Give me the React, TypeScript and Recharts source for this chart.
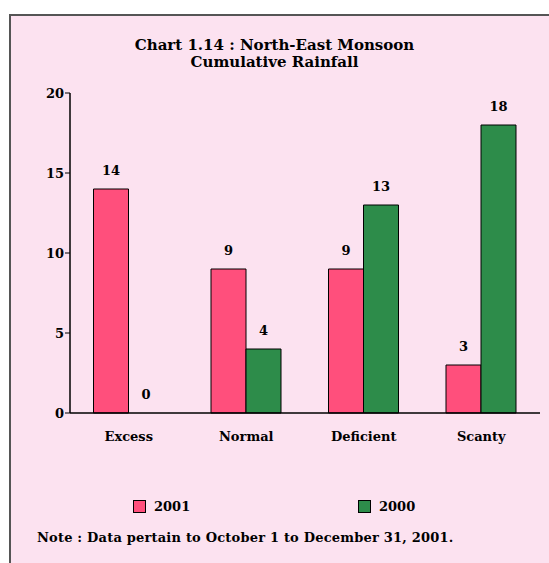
import React from 'react';
import { BarChart, Bar, XAxis, YAxis, LabelList, Legend, Cell } from 'recharts';

const categories = ['Excess', 'Normal', 'Deficient', 'Scanty'];
const values2001 = [14, 9, 9, 3];
const values2000 = [0, 4, 13, 18];
const yTicks = [0, 5, 10, 15, 20];
const boundaryTicks = [0, 1, 2, 3, 4];

const data = categories.map((name, i) => ({ name, y2001: values2001[i], y2000: values2000[i] }));

const FONT = '"DejaVu Serif", serif';
const PINK = '#ff4f7c';
const GREEN = '#2d8c4a';
const legendLeft: Record<string, number> = { y2001: 133, y2000: 358 };

const renderLegend = (props: any) => {
  const { payload } = props;
  return (
    <div style={{ position: 'relative', height: 0, fontFamily: FONT, fontWeight: 'bold', fontSize: 13, color: '#000' }}>
      {payload.map((p: any, i: number) => (
        <div key={i} style={{ display: 'flex', alignItems: 'center', position: 'absolute', top: 0, left: legendLeft[p.dataKey] ?? 0 }}>
          <span style={{ width: 11, height: 11, background: p.color, border: '1px solid #000', display: 'inline-block', marginRight: 8 }} />
          <span>{p.value}</span>
        </div>
      ))}
    </div>
  );
};

const valueText = (entry: any) => {
  const v = Array.isArray(entry.value) ? entry.value[1] : entry.value;
  return String(v);
};

const renderValue = (props: any) => {
  const { x, y, width, height, value } = props;
  // zero bars get a 1px min size so their label survives; anchor label on the baseline
  const top = Number(y) + (String(value) === '0' ? Number(height) : 0);
  return (
    <text x={Number(x) + Number(width) / 2} y={top - 14} textAnchor="middle" fill="#000" fontFamily={FONT} fontWeight="bold" fontSize={13}>
      {value}
    </text>
  );
};

export default function App() {
  return (
    <div style={{ position: 'absolute', left: 0, top: 0, width: 549, height: 563, overflow: 'hidden', background: '#fff' }}>
      <div style={{ position: 'absolute', left: 9, top: 14, width: 560, height: 560, background: '#fce2f0', borderTop: '2px solid #555', borderLeft: '2px solid #555' }} />
      <div style={{ position: 'absolute', left: 0, top: 37, width: 549, textAlign: 'center', fontFamily: FONT, fontWeight: 'bold', fontSize: 15, lineHeight: '17px', color: '#000' }}>
        Chart 1.14 : North-East Monsoon<br />Cumulative Rainfall
      </div>
      <div style={{ position: 'absolute', left: 0, top: 0 }}>
        <BarChart width={549} height={563} data={data} margin={{ top: 93, right: 9, left: 0, bottom: 120 }} barCategoryGap="20%" barGap={0}>
          <XAxis xAxisId="b" type="number" domain={[0, 4]} ticks={boundaryTicks} height={0} axisLine={false} tickLine={{ stroke: '#000' }} tickSize={6} tickFormatter={() => ''} allowDataOverflow />
          <XAxis dataKey="name" height={30} axisLine={{ stroke: '#000', strokeWidth: 1.5 }} tickLine={false} tickMargin={13} tick={{ fill: '#000', fontFamily: FONT, fontWeight: 'bold', fontSize: 13 }} />
          <YAxis width={70} domain={[0, 20]} ticks={yTicks} axisLine={{ stroke: '#000', strokeWidth: 1.5 }} tickLine={{ stroke: '#000' }} tickSize={5} tickMargin={1} tick={{ fill: '#000', fontFamily: FONT, fontWeight: 'bold', fontSize: 13 }} />
          <Legend verticalAlign="top" content={renderLegend} wrapperStyle={{ position: 'absolute', top: 499, left: 0, width: 549, height: 0 }} />
          <Bar dataKey="y2001" name="2001" fill={PINK} stroke="#000" strokeWidth={1} isAnimationActive={false}>
            <LabelList dataKey="y2001" valueAccessor={valueText} content={renderValue} />
          </Bar>
          <Bar dataKey="y2000" name="2000" fill={GREEN} stroke="#000" strokeWidth={1} minPointSize={1} isAnimationActive={false}>
            {values2000.map((v, i) => (
              <Cell key={`c-${i}`} fill={v === 0 ? 'none' : GREEN} stroke={v === 0 ? 'none' : '#000'} />
            ))}
            <LabelList dataKey="y2000" valueAccessor={valueText} content={renderValue} />
          </Bar>
        </BarChart>
      </div>
      <div style={{ position: 'absolute', left: 37, top: 530, fontFamily: FONT, fontWeight: 'bold', fontSize: 13, color: '#000', whiteSpace: 'nowrap', letterSpacing: 0.2 }}>
        Note : Data pertain to October 1 to December 31, 2001.
      </div>
    </div>
  );
}
